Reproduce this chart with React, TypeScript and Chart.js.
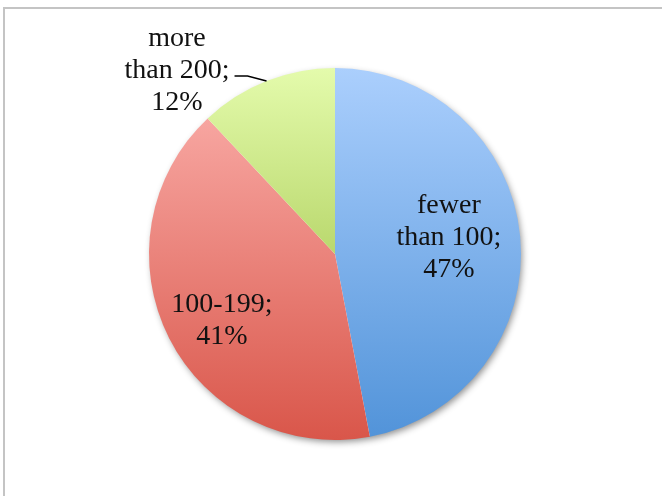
import React, { useEffect, useRef } from "react";
import { Chart, registerables } from "chart.js";

Chart.register(...registerables);

// Share of respondents by group size
const categories = ["fewer than 100", "100-199", "more than 200"];
const shares = [47, 41, 12];

// Vertical gradient stops per slice (top, bottom)
const topColors = ["#abcffd", "#fcb2ae", "#e4fbac"];
const bottomColors = ["#5193d9", "#d9564a", "#8fb52f"];

// Label lines per slice
const labelLines = [
  ["fewer", "than 100;", "47%"],
  ["100-199;", "41%"],
  ["more", "than 200;", "12%"],
];
// Label placement: inside at a fraction of the radius, or outside with a leader
const labelInside = [true, true, false];
const labelRadius = [0.62, 0.7, 1];
const labelAngleNudge = [-3.6, -2.7, 0];

const FONT = '28px "Liberation Serif", "Times New Roman", serif';
const LINE_H = 32;

const pieShadow = {
  id: "pieShadow",
  beforeDatasetsDraw(chart: any) {
    const arc = chart.getDatasetMeta(0).data[0];
    if (!arc) return;
    const { x, y, outerRadius } = arc.getProps(["x", "y", "outerRadius"], true);
    const ctx = chart.ctx;
    ctx.save();
    ctx.shadowColor = "rgba(0,0,0,0.45)";
    ctx.shadowBlur = 7;
    ctx.shadowOffsetX = 2;
    ctx.shadowOffsetY = 3;
    ctx.fillStyle = "#ffffff";
    ctx.beginPath();
    ctx.arc(x, y, outerRadius - 1, 0, Math.PI * 2);
    ctx.fill();
    ctx.restore();
  },
};

const sliceLabels = {
  id: "sliceLabels",
  afterDatasetsDraw(chart: any) {
    const ctx = chart.ctx;
    const meta = chart.getDatasetMeta(0);
    ctx.save();
    ctx.font = FONT;
    ctx.fillStyle = "#111111";
    ctx.textAlign = "center";
    ctx.textBaseline = "alphabetic";
    meta.data.forEach((arc: any, i: number) => {
      const { x, y, startAngle, endAngle, outerRadius } = arc.getProps(
        ["x", "y", "startAngle", "endAngle", "outerRadius"],
        true
      );
      const lines = labelLines[i];
      const n = lines.length;
      const mid = (startAngle + endAngle) / 2;
      if (labelInside[i]) {
        const a = mid + (labelAngleNudge[i] * Math.PI) / 180;
        const r = outerRadius * labelRadius[i];
        const cx = x + Math.cos(a) * r;
        const cy = y + Math.sin(a) * r;
        lines.forEach((t: string, j: number) => {
          ctx.fillText(t, cx, cy + (j - (n - 1) / 2) * LINE_H + 9);
        });
      } else {
        // leader line from the slice edge, then a short horizontal run
        const ex = x + Math.cos(mid) * outerRadius;
        const ey = y + Math.sin(mid) * outerRadius;
        const bx = ex - 19;
        const by = ey - 5;
        const lx = bx - 13;
        ctx.strokeStyle = "#000000";
        ctx.lineWidth = 1.5;
        ctx.beginPath();
        ctx.moveTo(ex, ey);
        ctx.lineTo(bx, by);
        ctx.lineTo(lx, by);
        ctx.stroke();
        const widest = Math.max(...lines.map((t: string) => ctx.measureText(t).width));
        const cx = lx - 5 - widest / 2;
        lines.forEach((t: string, j: number) => {
          ctx.fillText(t, cx, by + 2 + (j - (n - 1) / 2) * LINE_H);
        });
      }
    });
    ctx.restore();
  },
};

export default function App() {
  const ref = useRef<HTMLCanvasElement | null>(null);

  useEffect(() => {
    if (!ref.current) return;
    const chart = new Chart(ref.current, {
      type: "pie",
      data: {
        labels: categories,
        datasets: [
          {
            data: shares,
            borderWidth: 0,
            backgroundColor: (context: any) => {
              const c = context.chart;
              const area = c.chartArea;
              const i = context.dataIndex ?? 0;
              if (!area) return topColors[i];
              const g = c.ctx.createLinearGradient(0, area.top, 0, area.bottom);
              g.addColorStop(0, topColors[i]);
              g.addColorStop(1, bottomColors[i]);
              return g;
            },
          },
        ],
      },
      options: {
        animation: false,
        responsive: false,
        maintainAspectRatio: false,
        events: [],
        layout: { padding: { left: 149, right: 141, top: 68, bottom: 56 } },
        plugins: {
          legend: { display: false },
          tooltip: { enabled: false },
        },
      },
      plugins: [pieShadow, sliceLabels],
    });
    return () => chart.destroy();
  }, []);

  return (
    <div
      style={{
        position: "absolute",
        left: 0,
        top: 0,
        width: 662,
        height: 496,
        background: "#ffffff",
        overflow: "hidden",
      }}
    >
      <div
        style={{
          position: "absolute",
          left: 3,
          top: 7,
          width: 700,
          height: 600,
          borderLeft: "2px solid #c4c4c4",
          borderTop: "2px solid #c4c4c4",
        }}
      />
      <canvas
        ref={ref}
        width={662}
        height={496}
        style={{ position: "absolute", left: 0, top: 0, width: 662, height: 496 }}
      />
    </div>
  );
}
